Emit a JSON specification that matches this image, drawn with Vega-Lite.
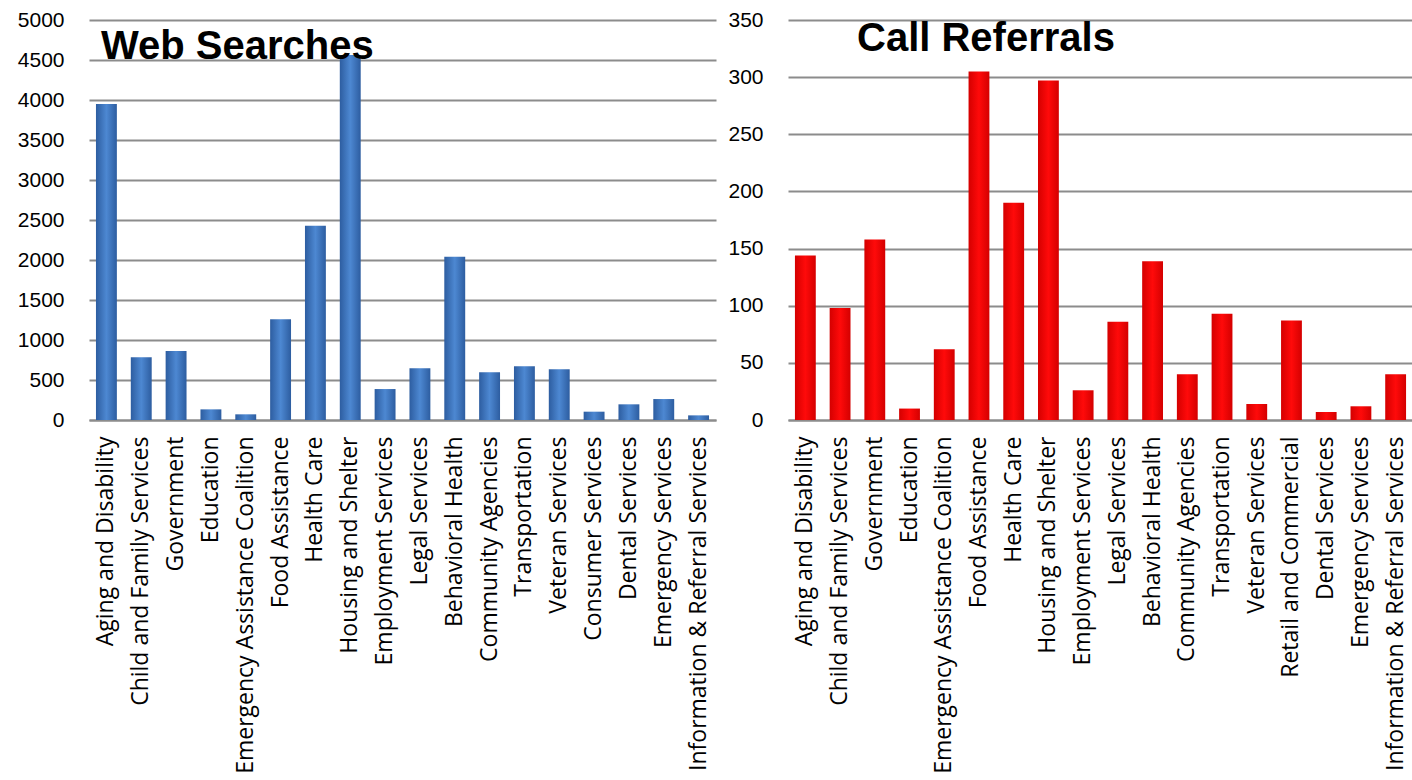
{
  "$schema": "https://vega.github.io/schema/vega-lite/v6.json",
  "padding": {"left": 17, "top": 9, "right": 0, "bottom": 0},
  "background": "white",
  "spacing": 11,
  "config": {
    "view": {"stroke": null},
    "axis": {
      "gridColor": "#8c8c8c",
      "gridWidth": 2,
      "domainColor": "#8c8c8c",
      "domainWidth": 2,
      "ticks": false,
      "labelColor": "#000000",
      "title": null
    },
    "title": {
      "font": "Liberation Sans",
      "fontWeight": "bold",
      "fontSize": 40,
      "color": "#000000",
      "anchor": "start",
      "frame": "group",
      "baseline": "alphabetic"
    }
  },
  "datasets": {
    "web": [
      {"category": "Aging and Disability", "value": 3950},
      {"category": "Child and Family Services", "value": 785},
      {"category": "Government", "value": 862},
      {"category": "Education", "value": 133},
      {"category": "Emergency Assistance Coalition", "value": 71},
      {"category": "Food Assistance", "value": 1258},
      {"category": "Health Care", "value": 2429},
      {"category": "Housing and Shelter", "value": 4562},
      {"category": "Employment Services", "value": 387},
      {"category": "Legal Services", "value": 646},
      {"category": "Behavioral Health", "value": 2042},
      {"category": "Community Agencies", "value": 596},
      {"category": "Transportation", "value": 671},
      {"category": "Veteran Services", "value": 633},
      {"category": "Consumer Services", "value": 104},
      {"category": "Dental Services", "value": 196},
      {"category": "Emergency Services", "value": 262},
      {"category": "Information & Referral Services", "value": 58}
    ],
    "calls": [
      {"category": "Aging and Disability", "value": 144},
      {"category": "Child and Family Services", "value": 98},
      {"category": "Government", "value": 158},
      {"category": "Education", "value": 10},
      {"category": "Emergency Assistance Coalition", "value": 62},
      {"category": "Food Assistance", "value": 305},
      {"category": "Health Care", "value": 190},
      {"category": "Housing and Shelter", "value": 297},
      {"category": "Employment Services", "value": 26},
      {"category": "Legal Services", "value": 86},
      {"category": "Behavioral Health", "value": 139},
      {"category": "Community Agencies", "value": 40},
      {"category": "Transportation", "value": 93},
      {"category": "Veteran Services", "value": 14},
      {"category": "Retail and Commercial", "value": 87},
      {"category": "Dental Services", "value": 7},
      {"category": "Emergency Services", "value": 12},
      {"category": "Information & Referral Services", "value": 40}
    ]
  },
  "hconcat": [
    {
      "width": 627,
      "height": 400,
      "title": {"text": "Web Searches", "offset": -58, "dx": 12},
      "data": {"name": "web"},
      "mark": {
        "type": "bar",
        "color": {
          "gradient": "linear", "x1": 0, "x2": 1, "y1": 0, "y2": 0,
          "stops": [
            {"offset": 0, "color": "#2d5da0"},
            {"offset": 0.5, "color": "#4d88d2"},
            {"offset": 1, "color": "#2d5da0"}
          ]
        }
      },
      "encoding": {
        "x": {
          "field": "category", "type": "nominal", "sort": null,
          "scale": {"paddingInner": 0.4, "paddingOuter": 0.2},
          "axis": {"labelAngle": -90, "labelFont": "Open Sans", "labelFontSize": 23, "labelPadding": 16, "labelLimit": 0, "labelColor": "#000000"}
        },
        "y": {
          "field": "value", "type": "quantitative",
          "scale": {"domain": [0, 5000], "nice": false},
          "axis": {"values": [0, 500, 1000, 1500, 2000, 2500, 3000, 3500, 4000, 4500, 5000], "format": "d", "domain": false, "labelFont": "Liberation Sans", "labelFontSize": 21, "labelPadding": 25}
        }
      }
    },
    {
      "width": 625,
      "height": 400,
      "title": {"text": "Call Referrals", "offset": -50, "dx": 69},
      "data": {"name": "calls"},
      "mark": {
        "type": "bar",
        "color": {
          "gradient": "linear", "x1": 0, "x2": 1, "y1": 0, "y2": 0,
          "stops": [
            {"offset": 0, "color": "#d40000"},
            {"offset": 0.5, "color": "#ff0a0a"},
            {"offset": 1, "color": "#d40000"}
          ]
        }
      },
      "encoding": {
        "x": {
          "field": "category", "type": "nominal", "sort": null,
          "scale": {"paddingInner": 0.4, "paddingOuter": 0.2},
          "axis": {"labelAngle": -90, "labelFont": "Open Sans", "labelFontSize": 23, "labelPadding": 16, "labelLimit": 0, "labelColor": "#000000"}
        },
        "y": {
          "field": "value", "type": "quantitative",
          "scale": {"domain": [0, 350], "nice": false},
          "axis": {"values": [0, 50, 100, 150, 200, 250, 300, 350], "format": "d", "domain": false, "labelFont": "Liberation Sans", "labelFontSize": 21, "labelPadding": 25}
        }
      }
    }
  ]
}
